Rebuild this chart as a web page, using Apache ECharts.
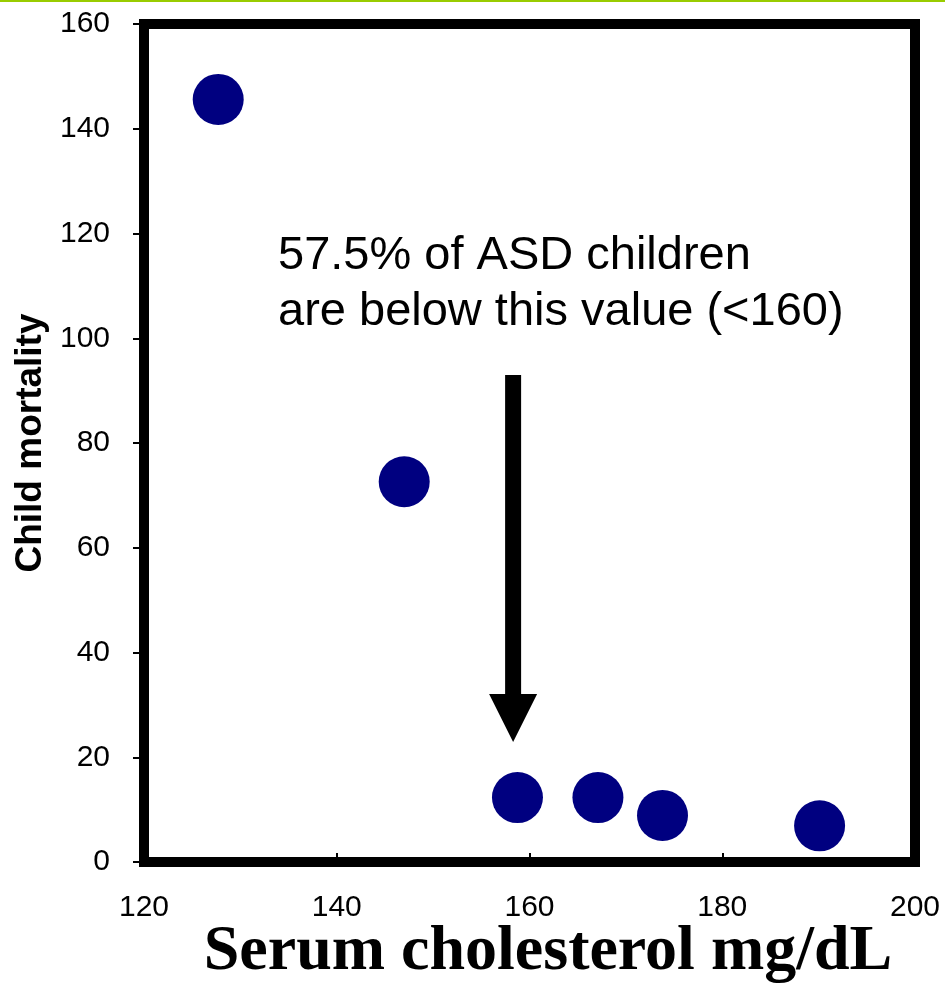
<!DOCTYPE html>
<html>
<head>
<meta charset="utf-8">
<script src="https://cdn.jsdelivr.net/npm/echarts@6/dist/echarts.min.js"></script>
<style>html,body{margin:0;padding:0;background:#fff;}#c{width:945px;height:984px;}</style>
</head>
<body>
<div id="c"></div>
<script>
// Data
const cholesterol = [127.7, 147.0, 158.75, 167.1, 173.8, 190.1];
const mortality   = [145.6, 72.6, 12.3, 12.3, 8.9, 6.9];
const xTicks = [120, 140, 160, 180, 200];
const yTicks = [0, 20, 40, 60, 80, 100, 120, 140, 160];
const annotationLines = ['57.5% of ASD children', 'are below this value (<160)'];
const arrowAt = 158.3;      // cholesterol value the arrow points to
const arrowFrom = 93;       // mortality value where the arrow starts
const arrowTo = 22.9;       // mortality value of the arrow tip
const xTitle = 'Serum cholesterol mg/dL';
const yTitle = 'Child mortality';

const tickFont = "'Liberation Sans Narrow', 'Arial Narrow', 'Liberation Sans', Arial, sans-serif";
const chart = echarts.init(document.getElementById('c'), null, {renderer: 'canvas'});
const points = cholesterol.map((x, i) => [x, mortality[i]]);

chart.setOption({
  animation: false,
  backgroundColor: '#ffffff',
  grid: {left: 144, right: 30, top: 24, bottom: 122, show: true,
         borderColor: '#000', borderWidth: 10, backgroundColor: 'transparent'},
  xAxis: {
    type: 'value', min: xTicks[0], max: xTicks[xTicks.length - 1], interval: xTicks[1] - xTicks[0],
    axisLine: {show: false},
    axisTick: {show: true, inside: true, length: 9, lineStyle: {color: '#000', width: 2}},
    axisLabel: {margin: 31, fontFamily: tickFont, fontSize: 30, color: '#000'},
    splitLine: {show: false}
  },
  yAxis: {
    type: 'value', min: yTicks[0], max: yTicks[yTicks.length - 1], interval: yTicks[1] - yTicks[0],
    axisLine: {show: false},
    axisTick: {show: true, inside: false, length: 11, lineStyle: {color: '#000', width: 2}},
    axisLabel: {margin: 34, fontFamily: tickFont, fontSize: 30, color: '#000'},
    splitLine: {show: false},
    name: yTitle, nameLocation: 'middle', nameGap: 94,
    nameTextStyle: {fontFamily: "'Liberation Sans', Arial, sans-serif", fontWeight: 'bold', fontSize: 37, color: '#000'}
  },
  series: [{
    type: 'scatter', data: points, symbol: 'circle', symbolSize: 51,
    itemStyle: {color: '#000080', opacity: 1}
  }]
});

const startPx = chart.convertToPixel({gridIndex: 0}, [arrowAt, arrowFrom]);
const tipPx = chart.convertToPixel({gridIndex: 0}, [arrowAt, arrowTo]);
const tx = tipPx[0], ty = tipPx[1], y0 = startPx[1], hb = ty - 48;

chart.setOption({
  graphic: [
    {type: 'rect', id: 'topline', shape: {x: 0, y: 0, width: 945, height: 2}, style: {fill: '#99cc00'}, silent: true},
    {type: 'polygon', id: 'arrow', shape: {points: [
      [tx - 8, y0], [tx + 8, y0], [tx + 8, hb], [tx + 24, hb], [tx, ty], [tx - 24, hb], [tx - 8, hb]
    ]}, style: {fill: '#000'}, silent: true},
    {type: 'text', id: 'note', x: 278, y: 228, silent: true,
     style: {text: annotationLines.join('\n'), font: "47px 'Liberation Sans', Arial, sans-serif",
             lineHeight: 56, fill: '#000', align: 'left', verticalAlign: 'top'}},
    {type: 'text', id: 'xtitle', x: 548, y: 952, silent: true,
     style: {text: xTitle, font: "bold 64px 'Liberation Serif', 'Times New Roman', serif",
             fill: '#000', align: 'center', verticalAlign: 'middle'}}
  ]
});
</script>
</body>
</html>
